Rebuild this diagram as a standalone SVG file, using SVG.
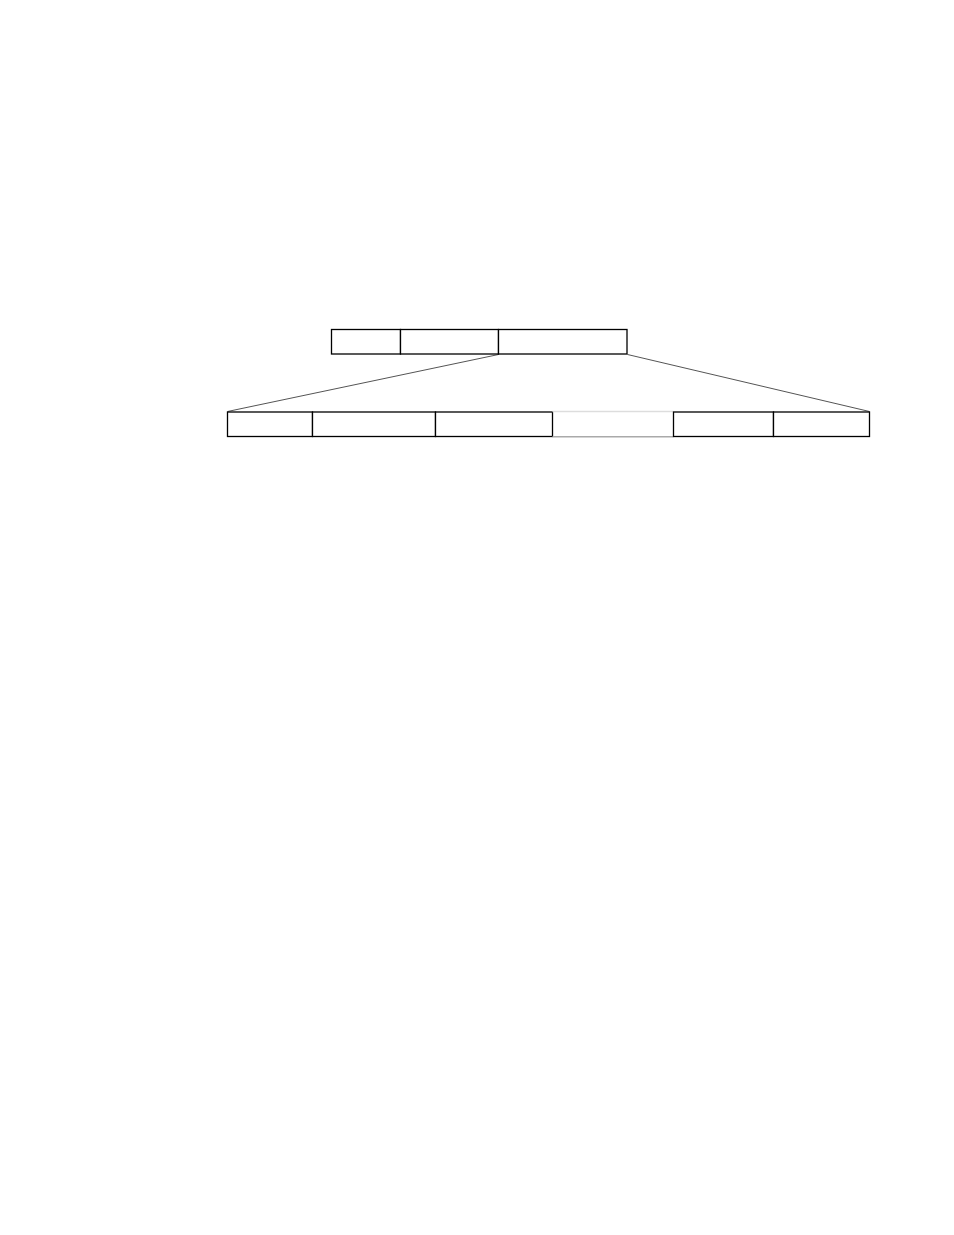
<svg xmlns="http://www.w3.org/2000/svg" width="954" height="1235" viewBox="0 0 954 1235">
<style>
.cell{fill:#fff;stroke:#000;stroke-width:1.3}
.conn{stroke:#555;stroke-width:1;fill:none}
</style>
<rect width="954" height="1235" fill="#fff"/>
<g id="connectors">
<line class="conn" x1="498.5" y1="354.5" x2="227.5" y2="411.5"/>
<line class="conn" x1="627.5" y1="354.5" x2="869.5" y2="411.5"/>
</g>
<g id="top-row">
<rect id="t1" class="cell" x="331.5" y="329.5" width="69" height="24.5"/>
<rect id="t2" class="cell" x="400.5" y="329.5" width="98" height="24.5"/>
<rect id="t3" class="cell" x="498.5" y="329.5" width="128.5" height="24.5"/>
</g>
<g id="bottom-row">
<rect id="b1" class="cell" x="227.5" y="412" width="85" height="24.5"/>
<rect id="b2" class="cell" x="312.5" y="412" width="123" height="24.5"/>
<rect id="b3" class="cell" x="435.5" y="412" width="117" height="24.5"/>
<g id="b4">
<line x1="552.5" y1="411.5" x2="673.5" y2="411.5" stroke="#ddd" stroke-width="1.5"/>
<line x1="552.5" y1="436.8" x2="673.5" y2="436.8" stroke="#aaa" stroke-width="1.5"/>
</g>
<rect id="b5" class="cell" x="673.5" y="412" width="100" height="24.5"/>
<rect id="b6" class="cell" x="773.5" y="412" width="96" height="24.5"/>
</g>
</svg>
